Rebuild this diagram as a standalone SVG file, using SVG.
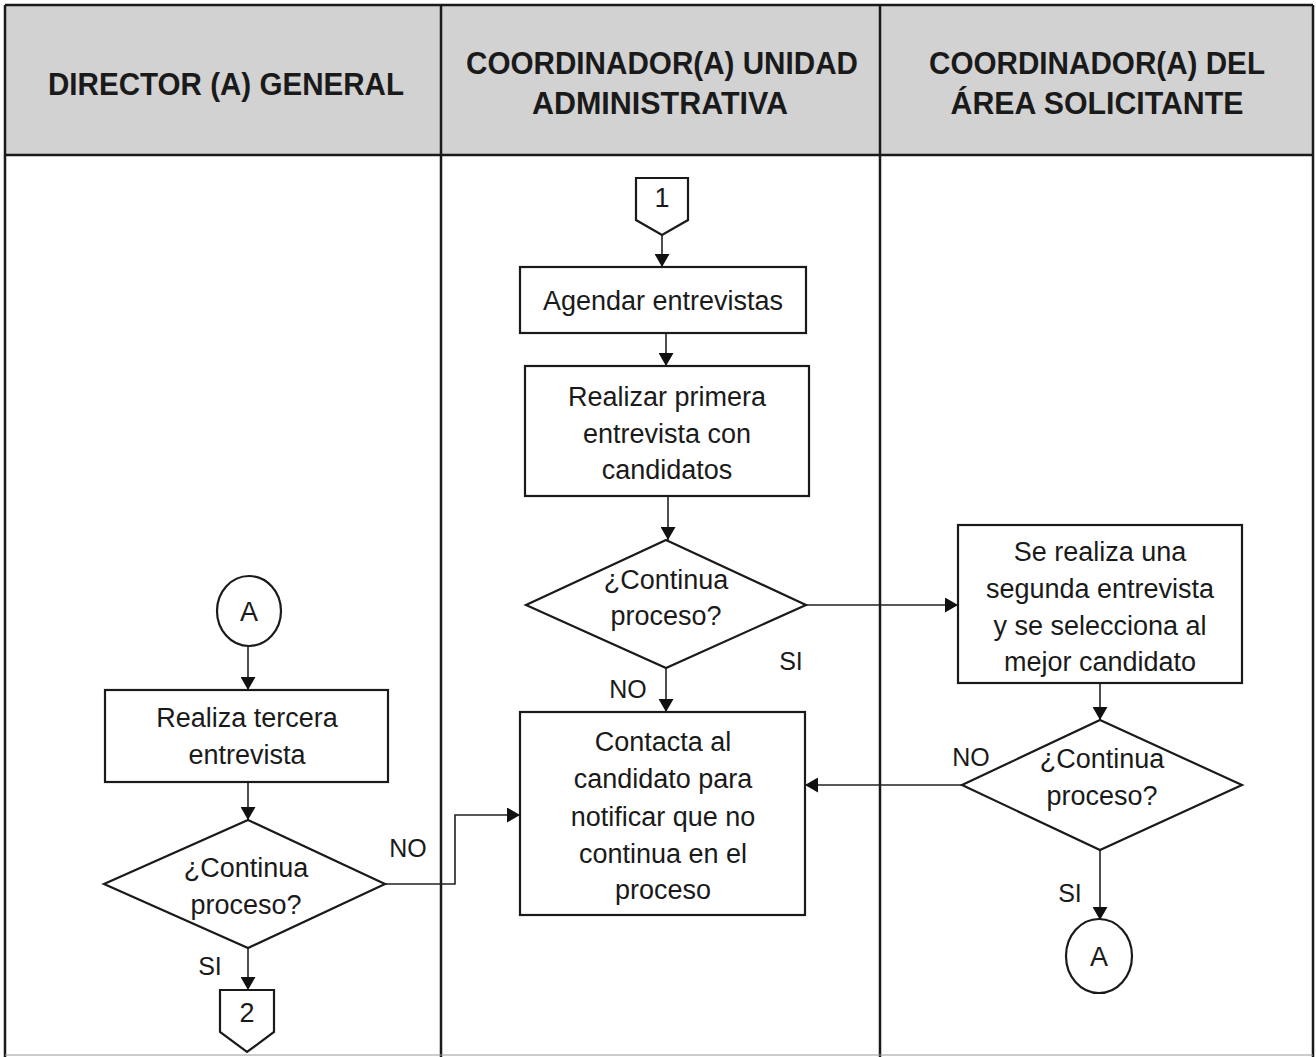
<svg xmlns="http://www.w3.org/2000/svg" width="1316" height="1057" viewBox="0 0 1316 1057">
<defs>
<marker id="ah" viewBox="0 0 13 15" refX="13" refY="7.5" markerWidth="13" markerHeight="15" markerUnits="userSpaceOnUse" orient="auto">
<path d="M0,0 L13,7.5 L0,15 Z" fill="#111"/>
</marker>
</defs>
<style>
.hdr{font-family:"Liberation Sans",Arial,sans-serif;font-weight:bold;font-size:31px;fill:#1a1a1a;text-anchor:middle}
.t{font-family:"Liberation Sans",Arial,sans-serif;font-size:27px;fill:#1a1a1a;text-anchor:middle}
.lbl{font-family:"Liberation Sans",Arial,sans-serif;font-size:25px;fill:#1a1a1a;text-anchor:middle}
.box{fill:#fff;stroke:#1a1a1a;stroke-width:2.2}
.grid{fill:none;stroke:#1a1a1a;stroke-width:2.5}
.c{fill:none;stroke:#222;stroke-width:1.6}
</style>
<rect x="0" y="0" width="1316" height="1057" fill="#fff"/>
<g id="table">
<rect x="5" y="5" width="1308" height="150" fill="#d2d2d2"/>
<line class="grid" x1="5" y1="5" x2="1313" y2="5"/>
<line class="grid" x1="5" y1="155" x2="1313" y2="155"/>
<line class="grid" x1="5" y1="5" x2="5" y2="1057"/>
<line class="grid" x1="441" y1="5" x2="441" y2="1057"/>
<line class="grid" x1="880" y1="5" x2="880" y2="1057"/>
<line class="grid" x1="1313" y1="5" x2="1313" y2="1057"/>
<line x1="5" y1="1055" x2="1313" y2="1055" stroke="#999" stroke-width="1"/>
<text class="hdr" x="226" y="95" textLength="356" lengthAdjust="spacingAndGlyphs">DIRECTOR (A) GENERAL</text>
<text class="hdr" x="662" y="74" textLength="392" lengthAdjust="spacingAndGlyphs">COORDINADOR(A) UNIDAD</text>
<text class="hdr" x="660" y="114" textLength="256" lengthAdjust="spacingAndGlyphs">ADMINISTRATIVA</text>
<text class="hdr" x="1097" y="74" textLength="336" lengthAdjust="spacingAndGlyphs">COORDINADOR(A) DEL</text>
<text class="hdr" x="1097" y="114" textLength="293" lengthAdjust="spacingAndGlyphs">ÁREA SOLICITANTE</text>
</g>
<g id="connectors">
<line class="c" x1="662" y1="235" x2="662" y2="267" marker-end="url(#ah)"/>
<line class="c" x1="666" y1="333" x2="666" y2="366" marker-end="url(#ah)"/>
<line class="c" x1="668" y1="496" x2="668" y2="540" marker-end="url(#ah)"/>
<line class="c" x1="666" y1="668" x2="666" y2="712" marker-end="url(#ah)"/>
<line class="c" x1="806" y1="605" x2="958" y2="605" marker-end="url(#ah)"/>
<line class="c" x1="1100" y1="683" x2="1100" y2="720" marker-end="url(#ah)"/>
<line class="c" x1="962" y1="785" x2="805" y2="785" marker-end="url(#ah)"/>
<line class="c" x1="1100" y1="850" x2="1100" y2="920" marker-end="url(#ah)"/>
<line class="c" x1="248" y1="646" x2="248" y2="690" marker-end="url(#ah)"/>
<line class="c" x1="248" y1="782" x2="248" y2="820" marker-end="url(#ah)"/>
<polyline class="c" points="385,884 455,884 455,815 520,815" marker-end="url(#ah)"/>
<line class="c" x1="248" y1="948" x2="248" y2="990" marker-end="url(#ah)"/>
<text class="lbl" x="791" y="670">SI</text>
<text class="lbl" x="628" y="698">NO</text>
<text class="lbl" x="971" y="766">NO</text>
<text class="lbl" x="1070" y="902">SI</text>
<text class="lbl" x="408" y="857">NO</text>
<text class="lbl" x="210" y="975">SI</text>
</g>
<g id="off1">
<polygon class="box" points="636,178 688,178 688,220 662,235 636,220"/>
<text class="t" x="662" y="207">1</text>
</g>
<g id="agendar">
<rect class="box" x="520" y="267" width="286" height="66"/>
<text class="t" x="663" y="310">Agendar entrevistas</text>
</g>
<g id="realizar">
<rect class="box" x="525" y="366" width="284" height="130"/>
<text class="t" x="667" y="406">Realizar primera</text>
<text class="t" x="667" y="443">entrevista con</text>
<text class="t" x="667" y="479">candidatos</text>
</g>
<g id="dec1">
<polygon class="box" points="666,540 806,605 666,668 526,605"/>
<text class="t" x="666" y="589">¿Continua</text>
<text class="t" x="666" y="625">proceso?</text>
</g>
<g id="contacta">
<rect class="box" x="520" y="712" width="285" height="203"/>
<text class="t" x="663" y="751">Contacta al</text>
<text class="t" x="663" y="788">candidato para</text>
<text class="t" x="663" y="826">notificar que no</text>
<text class="t" x="663" y="863">continua en el</text>
<text class="t" x="663" y="899">proceso</text>
</g>
<g id="segunda">
<rect class="box" x="958" y="525" width="284" height="158"/>
<text class="t" x="1100" y="561">Se realiza una</text>
<text class="t" x="1100" y="598">segunda entrevista</text>
<text class="t" x="1100" y="635">y se selecciona al</text>
<text class="t" x="1100" y="671">mejor candidato</text>
</g>
<g id="dec2">
<polygon class="box" points="1100,720 1242,785 1100,850 962,785"/>
<text class="t" x="1102" y="768">¿Continua</text>
<text class="t" x="1102" y="805">proceso?</text>
</g>
<g id="circA2">
<ellipse class="box" cx="1099" cy="956" rx="33" ry="37"/>
<text class="t" x="1099" y="966">A</text>
</g>
<g id="circA1">
<ellipse class="box" cx="249" cy="611" rx="32" ry="35"/>
<text class="t" x="249" y="621">A</text>
</g>
<g id="tercera">
<rect class="box" x="105" y="690" width="283" height="92"/>
<text class="t" x="247" y="727">Realiza tercera</text>
<text class="t" x="247" y="764">entrevista</text>
</g>
<g id="dec3">
<polygon class="box" points="248,820 385,884 248,948 104,884"/>
<text class="t" x="246" y="877">¿Continua</text>
<text class="t" x="246" y="914">proceso?</text>
</g>
<g id="off2">
<polygon class="box" points="220,990 274,990 274,1032 247,1052 220,1032"/>
<text class="t" x="247" y="1022">2</text>
</g>
</svg>
